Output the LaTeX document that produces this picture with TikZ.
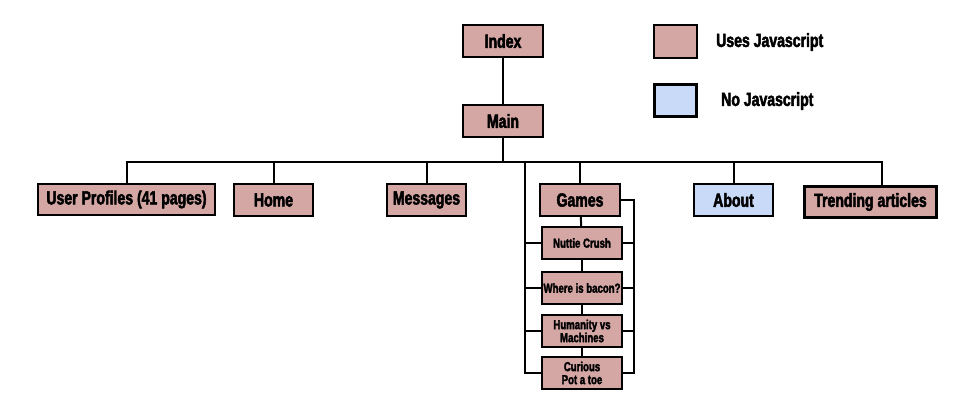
\documentclass[tikz,border=0pt]{standalone}
\usepackage{fontspec}
\newfontfamily\impfont{Liberation Sans Bold}[FakeStretch=0.74,FakeBold=2.5]
\definecolor{jspink}{HTML}{D4A6A4}
\definecolor{nojsblue}{HTML}{C9DAF8}
\begin{document}
\begin{tikzpicture}[x=1pt,y=-1pt,
  box/.style={draw=black, line width=2pt, fill=jspink, inner sep=0pt, font=\impfont\fontsize{19}{20}\selectfont},
  subbox/.style={draw=black, line width=2pt, fill=jspink, inner sep=0pt, minimum width=80pt, align=center, font=\impfont\fontsize{13}{13}\selectfont},
  lbl/.style={font=\impfont\fontsize{19}{20}\selectfont, inner sep=0pt},
  conn/.style={line width=2pt, line cap=rect}]
\useasboundingbox (0,0) rectangle (975,415);
% top
\node[box, minimum width=80pt, minimum height=32pt] (index) at (503,41) {Index};
\node[box, minimum width=80pt, minimum height=32pt] (main) at (503,121) {Main};
% legend
\node[box, minimum width=43pt, minimum height=33pt] (legjs) at (675.5,41.5) {};
\node[lbl, anchor=west] (legjst) at (716,42) {Uses Javascript};
\node[box, fill=nojsblue, line width=3pt, minimum width=42pt, minimum height=32pt] (legno) at (675.5,100.5) {};
\node[lbl, anchor=west] (legnot) at (721,101) {No Javascript};
% level 2
\node[box, minimum width=177pt, minimum height=31pt] (users) at (126.5,199.5) {User Profiles (41 pages)};
\node[box, minimum width=79pt, minimum height=32pt] (home) at (273.5,200) {Home};
\node[box, minimum width=79pt, minimum height=32pt] (msgs) at (426.5,200) {Messages};
\node[box, minimum width=80pt, minimum height=32pt] (games) at (580,200) {Games};
\node[box, fill=nojsblue, minimum width=79pt, minimum height=32pt] (about) at (733.5,200) {About};
\node[box, line width=3pt, minimum width=132pt, minimum height=31pt] (trend) at (870.5,202) {Trending articles};
% games
\node[subbox, minimum height=32pt] (nuttie) at (582,243) {Nuttie Crush};
\node[subbox, minimum height=32pt] (bacon) at (582,288) {Where is bacon?};
\node[subbox, minimum height=32pt] (human) at (582,331) {Humanity vs\\Machines};
\node[subbox, minimum height=32pt] (curious) at (582,373) {Curious\\Pot a toe};
% connectors
\coordinate (bus) at (503,162);
\coordinate (lft) at (525,162);
\coordinate (rgt) at (634,200);
\draw[conn] (index) -- (main);
\draw[conn] (main) -- (bus);
\draw[conn] (bus) -| (users.north);
\draw[conn] (bus) -| (home.north);
\draw[conn] (bus) -| (msgs.north);
\draw[conn] (bus) -| (games.north);
\draw[conn] (bus) -| (about.north);
\draw[conn] (bus) -| ([xshift=11.5pt]trend.north);
\draw[conn] (lft) |- (curious.west);
\draw[conn] (lft |- nuttie.west) -- (nuttie.west);
\draw[conn] (lft |- bacon.west) -- (bacon.west);
\draw[conn] (lft |- human.west) -- (human.west);
\draw[conn] (games.east) -- (rgt) |- (curious.east);
\draw[conn] (rgt |- nuttie.east) -- (nuttie.east);
\draw[conn] (rgt |- bacon.east) -- (bacon.east);
\draw[conn] (rgt |- human.east) -- (human.east);
\draw[conn] (games) -- (nuttie);
\draw[conn] (nuttie) -- (bacon);
\draw[conn] (bacon) -- (human);
\draw[conn] (human) -- (curious);
\end{tikzpicture}
\end{document}
